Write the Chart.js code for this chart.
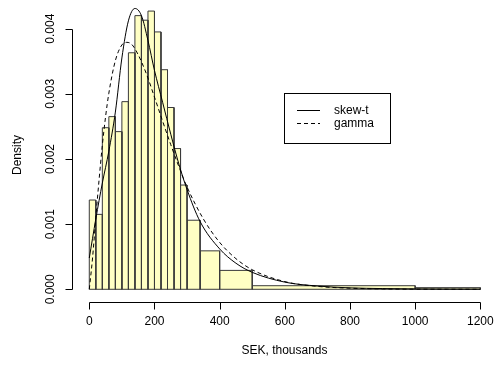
<!DOCTYPE html>
<html>
<head>
<meta charset="utf-8">
<script src="https://cdn.jsdelivr.net/npm/chart.js@4/dist/chart.umd.min.js"></script>
<style>
html,body{margin:0;padding:0;background:#fff;}
#wrap{width:496px;height:372px;}
</style>
</head>
<body>
<div id="wrap"><canvas id="c" width="496" height="372"></canvas></div>
<script>
// Histogram bin breaks (SEK, thousands) and densities
const breaks = [0,20,40,60,80,100,120,140,160,180,200,220,240,260,280,300,340,400,500,1000,1200];
const densities = [0.00137,0.00115,0.00248,0.00265,0.00242,0.00288,0.00363,0.00420,0.00413,0.00427,
                   0.00395,0.00337,0.00279,0.00216,0.00160,0.00106,0.00059,0.00029,0.000055,0.000025];

// Fitted density curves
const skewX = [0,20,40,60,80,100,120,140,160,180,200,225,250,275,300,340,400,450,500,600,700,800,900,1000,1100,1200];
const skewY = [0.00048,0.00108,0.00163,0.00212,0.00272,0.00355,0.00412,0.00431,0.00420,0.00382,0.00336,0.00287,0.00238,0.00192,0.00153,0.00104,0.00062,0.00040,0.00026,0.00011,0.00005,0.000022,0.000011,0.000006,0.000003,0.000002];
const gammaX = [0,10,20,30,40,50,60,80,100,115,130,150,175,200,225,250,275,300,350,400,450,500,600,700,800,900,1000,1100,1200];
const gammaY = [0,0.00048,0.00110,0.00168,0.00221,0.00265,0.00301,0.00351,0.00375,0.00379,0.00376,0.00360,0.00331,0.00295,0.00258,0.00222,0.00188,0.00157,0.00108,0.00072,0.00047,0.00030,0.000118,0.000045,0.000017,0.000006,0.000002,0.000001,0.0000003];

const xTicks = [0,200,400,600,800,1000,1200];
const yTicks = [0,0.001,0.002,0.003,0.004];
const yTickLabels = ['0.000','0.001','0.002','0.003','0.004'];
const legendLabels = ['skew-t','gamma'];
const xTitle = 'SEK, thousands';
const yTitle = 'Density';

const FONT = '12px "Liberation Sans", Arial, sans-serif';

const datasets = [];
datasets.push({
  label: legendLabels[0],
  data: skewX.map((x,i)=>({x:x,y:skewY[i]})),
  showLine: true, borderColor:'#000', borderWidth:1, pointRadius:0,
  cubicInterpolationMode:'monotone', fill:false, order:0
});
datasets.push({
  label: legendLabels[1],
  data: gammaX.map((x,i)=>({x:x,y:gammaY[i]})),
  showLine: true, borderColor:'#000', borderWidth:1, borderDash:[4,3], pointRadius:0,
  cubicInterpolationMode:'monotone', fill:false, order:0
});
for (let i=0;i<densities.length;i++){
  const x0=breaks[i], x1=breaks[i+1], h=densities[i];
  datasets.push({
    label:'bin'+i,
    data:[{x:x0,y:0},{x:x0,y:h},{x:x1,y:h},{x:x1,y:0}],
    showLine:true, borderColor:'#3a3a3a', borderWidth:1, pointRadius:0,
    backgroundColor:'#FFFFC4', fill:'origin', tension:0, order:2
  });
}
datasets.push({
  label:'base',
  data:[{x:breaks[0],y:0},{x:breaks[breaks.length-1],y:0}],
  showLine:true, borderColor:'#3a3a3a', borderWidth:1, pointRadius:0, fill:false, order:1
});

const axesPlugin = {
  id:'raxes',
  afterDraw(chart){
    const ctx=chart.ctx, xs=chart.scales.x, ys=chart.scales.y, ca=chart.chartArea;
    ctx.save();
    ctx.strokeStyle='#000'; ctx.lineWidth=1; ctx.fillStyle='#000'; ctx.font=FONT;
    // x axis
    const yb = Math.round(ca.bottom)+0.5;
    const xa = Math.round(xs.getPixelForValue(xTicks[0]))+0.5;
    const xb = Math.round(xs.getPixelForValue(xTicks[xTicks.length-1]))+0.5;
    ctx.beginPath(); ctx.moveTo(xa,yb); ctx.lineTo(xb,yb);
    xTicks.forEach(v=>{const p=Math.round(xs.getPixelForValue(v))+0.5; ctx.moveTo(p,yb); ctx.lineTo(p,yb+7);});
    ctx.stroke();
    ctx.textAlign='center'; ctx.textBaseline='middle';
    xTicks.forEach(v=>{ctx.fillText(String(v), xs.getPixelForValue(v), yb+19);});
    ctx.fillText(xTitle, (ca.left+ca.right)/2, yb+48);
    // y axis
    const xl = Math.round(ca.left)-0.5;
    const ya = Math.round(ys.getPixelForValue(yTicks[0]))+0.5;
    const yt = Math.round(ys.getPixelForValue(yTicks[yTicks.length-1]))+0.5;
    ctx.beginPath(); ctx.moveTo(xl,ya); ctx.lineTo(xl,yt);
    yTicks.forEach(v=>{const p=Math.round(ys.getPixelForValue(v))+0.5; ctx.moveTo(xl,p); ctx.lineTo(xl-7,p);});
    ctx.stroke();
    yTicks.forEach((v,i)=>{
      ctx.save(); ctx.translate(xl-22, ys.getPixelForValue(v)); ctx.rotate(-Math.PI/2);
      ctx.fillText(yTickLabels[i],0,0); ctx.restore();
    });
    ctx.save(); ctx.translate(18,155); ctx.rotate(-Math.PI/2); ctx.fillText(yTitle,0,0); ctx.restore();
    // legend
    ctx.strokeRect(284.5,93.5,106,50);
    ctx.beginPath(); ctx.moveTo(297,110.5); ctx.lineTo(320,110.5); ctx.stroke();
    ctx.setLineDash([4,3]);
    ctx.beginPath(); ctx.moveTo(297,123.5); ctx.lineTo(320,123.5); ctx.stroke();
    ctx.setLineDash([]);
    ctx.textAlign='left';
    ctx.fillText(legendLabels[0],334,111);
    ctx.fillText(legendLabels[1],334,124);
    ctx.restore();
  }
};

new Chart(document.getElementById('c'),{
  type:'scatter',
  data:{datasets:datasets},
  options:{
    responsive:false, animation:false, devicePixelRatio:1,
    layout:{padding:{left:73,right:0,top:0,bottom:70}},
    plugins:{legend:{display:false},tooltip:{enabled:false}},
    scales:{
      x:{type:'linear',min:-50,max:1248,display:false},
      y:{type:'linear',min:-0.000195,max:0.00444,display:false}
    }
  },
  plugins:[axesPlugin]
});
</script>
</body>
</html>
